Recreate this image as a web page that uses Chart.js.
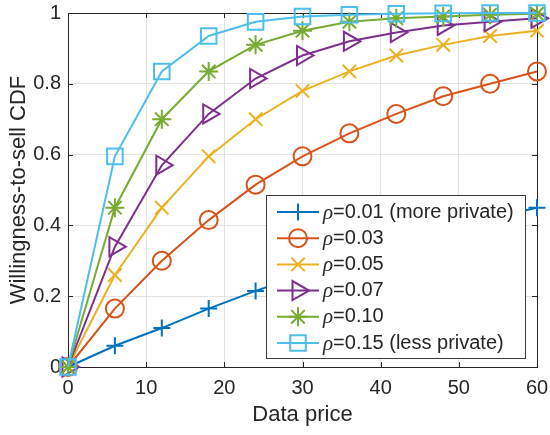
<!DOCTYPE html>
<html>
<head>
<meta charset="utf-8">
<script src="https://cdn.jsdelivr.net/npm/chart.js"></script>
<style>
  html, body { margin: 0; padding: 0; background: #fff; }
  #wrap { width: 550px; height: 435px; }
</style>
</head>
<body>
<div id="wrap"><canvas id="cdfChart" width="550" height="435"></canvas></div>
<script>
// data
const prices = [0, 6, 12, 18, 24, 30, 36, 42, 48, 54, 60];
const rho001 = [0, 0.06, 0.11, 0.165, 0.215, 0.26, 0.30, 0.34, 0.38, 0.42, 0.45];
const rho003 = [0, 0.165, 0.30, 0.415, 0.515, 0.595, 0.66, 0.715, 0.765, 0.80, 0.835];
const rho005 = [0, 0.26, 0.45, 0.595, 0.70, 0.78, 0.835, 0.88, 0.91, 0.935, 0.95];
const rho007 = [0, 0.34, 0.57, 0.715, 0.815, 0.88, 0.92, 0.945, 0.965, 0.975, 0.985];
const rho010 = [0, 0.45, 0.70, 0.835, 0.91, 0.95, 0.975, 0.985, 0.99, 0.995, 0.998];
const rho015 = [0, 0.595, 0.835, 0.935, 0.975, 0.99, 0.995, 0.998, 0.999, 1.0, 1.0];
const rhoLabels = ['0.01 (more private)', '0.03', '0.05', '0.07', '0.10', '0.15 (less private)'];
const xTickLabels = ['0', '10', '20', '30', '40', '50', '60'];
const yTickLabels = ['0', '0.2', '0.4', '0.6', '0.8', '1'];
const xTitle = 'Data price';
const yTitle = 'Willingness-to-sell CDF';

const allSeries = [rho001, rho003, rho005, rho007, rho010, rho015];
const colors = ['#0072BD', '#D95319', '#EDB120', '#7E2F8E', '#77AC30', '#4DBEEE'];
const markers = [
  { style: 'cross', radius: 8.5, rotation: 0 },
  { style: 'circle', radius: 9, rotation: 0 },
  { style: 'crossRot', radius: 9.5, rotation: 0 },
  { style: 'triangle', radius: 11, rotation: 90 },
  { style: 'star', radius: 9.5, rotation: 0 },
  { style: 'rect', radius: 11, rotation: 0 },
];

const SANS = '"Liberation Sans", Arial, Helvetica, sans-serif';
const AXIS_COLOR = '#262626';

const datasets = allSeries.map((vals, i) => ({
  label: 'ρ=' + rhoLabels[i],
  data: vals.map((v, j) => ({ x: prices[j], y: v })),
  borderColor: colors[i],
  borderWidth: 2,
  pointStyle: markers[i].style,
  pointRadius: markers[i].radius,
  pointHoverRadius: markers[i].radius,
  pointRotation: markers[i].rotation,
  pointBorderColor: colors[i],
  pointBackgroundColor: 'rgba(0,0,0,0)',
  pointBorderWidth: 2,
  tension: 0,
  clip: false,
  order: allSeries.length - i,
}));

function noPad(s) {
  s.paddingLeft = 0;
  s.paddingRight = 0;
  s.paddingTop = 0;
  s.paddingBottom = 0;
}

// box around the axes with inward ticks, like matlab "box on"
const boxPlugin = {
  id: 'axesBox',
  beforeDatasetsDraw(chart) {
    const { ctx, chartArea: a, scales } = chart;
    const tl = 5;
    ctx.save();
    ctx.strokeStyle = AXIS_COLOR;
    ctx.lineWidth = 1;
    ctx.strokeRect(Math.round(a.left) + 0.5, Math.round(a.top) + 0.5,
      Math.round(a.right - a.left), Math.round(a.bottom - a.top));
    ctx.beginPath();
    scales.x.ticks.forEach(t => {
      const px = Math.round(scales.x.getPixelForValue(t.value)) + 0.5;
      ctx.moveTo(px, a.bottom); ctx.lineTo(px, a.bottom - tl);
      ctx.moveTo(px, a.top); ctx.lineTo(px, a.top + tl);
    });
    scales.y.ticks.forEach(t => {
      const py = Math.round(scales.y.getPixelForValue(t.value)) + 0.5;
      ctx.moveTo(a.left, py); ctx.lineTo(a.left + tl, py);
      ctx.moveTo(a.right, py); ctx.lineTo(a.right - tl, py);
    });
    ctx.stroke();

    // y title
    ctx.translate(25, (a.top + a.bottom) / 2);
    ctx.rotate(-Math.PI / 2);
    ctx.font = '22px ' + SANS;
    ctx.fillStyle = AXIS_COLOR;
    ctx.textAlign = 'center';
    ctx.textBaseline = 'alphabetic';
    ctx.fillText(yTitle, 0, 0);
    ctx.restore();
  }
};

// legend drawn inside the axes, lower right
const legendPlugin = {
  id: 'insideLegend',
  afterDatasetsDraw(chart) {
    const { ctx, chartArea: a } = chart;
    const rowH = 26.2;
    const fontSize = 20;
    ctx.save();
    const rhoFont = 'italic ' + (fontSize + 1) + 'px "Liberation Serif", "DejaVu Serif", serif';
    let maxW = 0;
    rhoLabels.forEach(lbl => {
      ctx.font = rhoFont;
      let w = ctx.measureText('ρ').width;
      ctx.font = fontSize + 'px ' + SANS;
      w += ctx.measureText('=' + lbl).width;
      maxW = Math.max(maxW, w);
    });
    const w = Math.round(57 + maxW + 11);
    const h = Math.round(rowH * rhoLabels.length + 6);
    const right = Math.round(a.right) - 12;
    const bottom = Math.round(a.bottom) - 9;
    const left = right - w;
    const top = bottom - h;
    ctx.fillStyle = '#fff';
    ctx.fillRect(left, top, w, h);
    ctx.strokeStyle = '#3a3a3a';
    ctx.lineWidth = 1;
    ctx.strokeRect(left + 0.5, top + 0.5, w, h);

    rhoLabels.forEach((lbl, i) => {
      const cy = top + 17 + i * rowH;
      ctx.strokeStyle = colors[i];
      ctx.lineWidth = 2;
      ctx.beginPath();
      ctx.moveTo(left + 11, cy);
      ctx.lineTo(left + 53, cy);
      ctx.stroke();
      ctx.fillStyle = 'rgba(0,0,0,0)';
      Chart.helpers.drawPoint(ctx, {
        pointStyle: markers[i].style,
        rotation: markers[i].rotation,
        radius: markers[i].radius,
        borderWidth: 2,
      }, left + 32, cy);
      ctx.fillStyle = '#262626';
      ctx.textBaseline = 'middle';
      ctx.textAlign = 'left';
      ctx.font = rhoFont;
      const tx = left + 57;
      ctx.fillText('ρ', tx, cy + 1);
      const rw = ctx.measureText('ρ').width;
      ctx.font = fontSize + 'px ' + SANS;
      ctx.fillText('=' + lbl, tx + rw, cy);
    });
    ctx.restore();
  }
};

new Chart(document.getElementById('cdfChart'), {
  type: 'line',
  data: { datasets },
  options: {
    responsive: false,
    animation: false,
    events: [],
    layout: { padding: { top: 10, right: 12, left: 0, bottom: 0 } },
    plugins: {
      legend: { display: false },
      tooltip: { enabled: false },
    },
    scales: {
      x: {
        type: 'linear',
        min: 0,
        max: 60,
        afterFit: s => { s.height = 68; noPad(s); },
        ticks: {
          stepSize: 10,
          padding: 11,
          maxRotation: 0,
          color: AXIS_COLOR,
          font: { family: SANS, size: 20, lineHeight: 1 },
          callback: (v, i) => xTickLabels[i],
        },
        grid: { color: '#e3e3e3', lineWidth: 1, drawTicks: false },
        border: { display: false },
        title: {
          display: true,
          text: xTitle,
          color: AXIS_COLOR,
          font: { family: SANS, size: 22 },
          padding: { top: 0, bottom: 7 },
        },
      },
      y: {
        type: 'linear',
        min: 0,
        max: 1,
        afterFit: s => { s.width = 68; noPad(s); },
        ticks: {
          stepSize: 0.2,
          padding: 7,
          color: AXIS_COLOR,
          font: { family: SANS, size: 20, lineHeight: 1 },
          callback: (v, i) => yTickLabels[i],
        },
        grid: { color: '#e3e3e3', lineWidth: 1, drawTicks: false },
        border: { display: false },
        title: { display: false },
      },
    },
  },
  plugins: [boxPlugin, legendPlugin],
});
</script>
</body>
</html>
